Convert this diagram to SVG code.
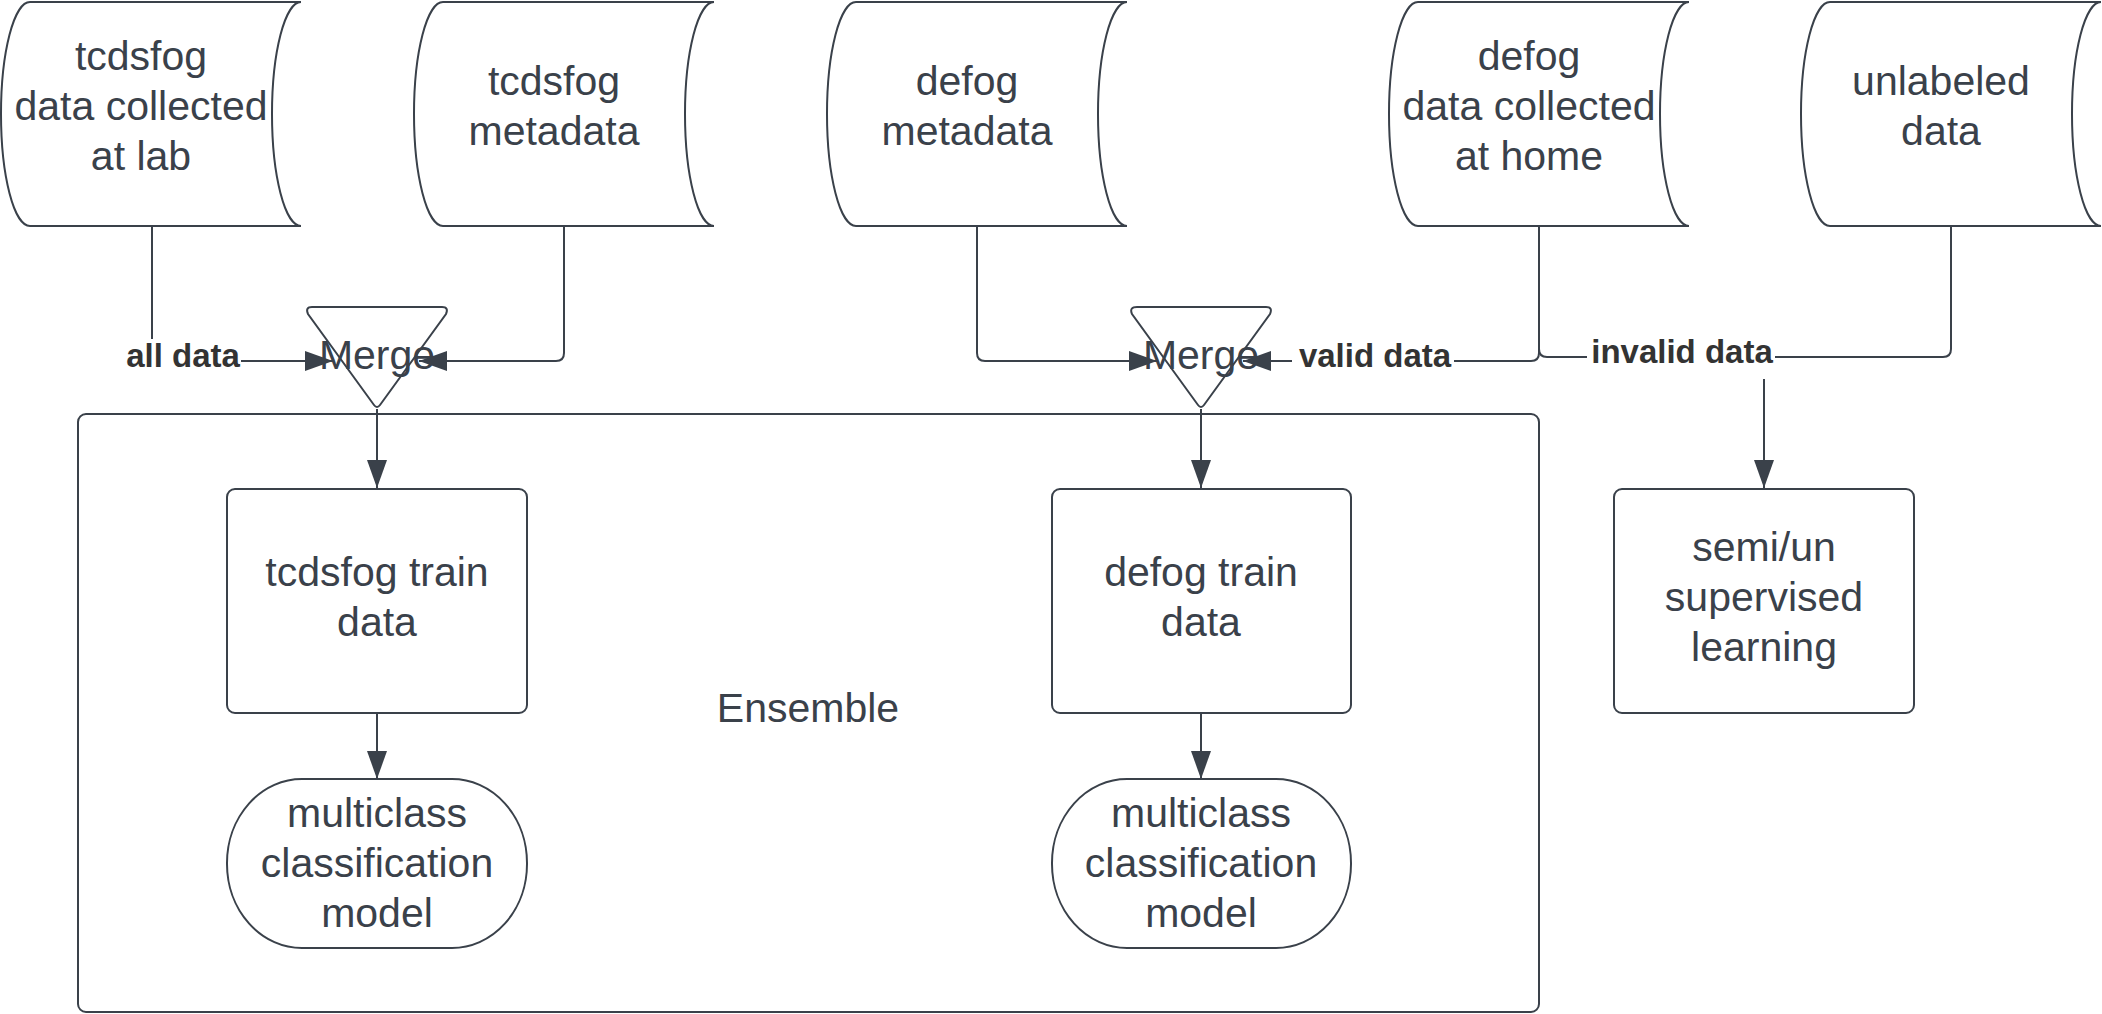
<svg xmlns="http://www.w3.org/2000/svg" width="2102" height="1014" viewBox="0 0 2102 1014">
<defs>
<style>
.shape{fill:#ffffff;stroke:#3a414a;stroke-width:2}
.t{font-family:"Liberation Sans",Arial,sans-serif;font-size:41px;fill:#3a414a;text-anchor:middle}
.edge{fill:none;stroke:#3a414a;stroke-width:2}
.lbl{font-family:"Liberation Sans",Arial,sans-serif;font-size:33px;font-weight:bold;fill:#333333;text-anchor:middle}
.lblbg{fill:#ffffff;stroke:none}
</style>
<marker id="arr" viewBox="0 0 28 20" refX="28" refY="10" markerWidth="28" markerHeight="20" markerUnits="userSpaceOnUse" orient="auto">
<path d="M0,0 L28,10 L0,20 Z" fill="#3a414a"/>
</marker>
</defs>
<rect width="2102" height="1014" fill="#ffffff"/>

<g id="ensemble">
<rect class="shape" x="78" y="414" width="1461" height="598" rx="8"/>
<text class="t" x="808" y="722">Ensemble</text>
</g>

<g id="cyl-tcdsfog-lab">
<path class="shape" d="M30,2 H301 A29,112 0 0,0 301,226 H30 A29,112 0 0,1 30,2 Z"/>
<text class="t" x="141" y="70">tcdsfog</text>
<text class="t" x="141" y="120">data collected</text>
<text class="t" x="141" y="170">at lab</text>
</g>
<g id="cyl-tcdsfog-meta">
<path class="shape" d="M443,2 H714 A29,112 0 0,0 714,226 H443 A29,112 0 0,1 443,2 Z"/>
<text class="t" x="554" y="95">tcdsfog</text>
<text class="t" x="554" y="145">metadata</text>
</g>
<g id="cyl-defog-meta">
<path class="shape" d="M856,2 H1127 A29,112 0 0,0 1127,226 H856 A29,112 0 0,1 856,2 Z"/>
<text class="t" x="967" y="95">defog</text>
<text class="t" x="967" y="145">metadata</text>
</g>
<g id="cyl-defog-home">
<path class="shape" d="M1418,2 H1689 A29,112 0 0,0 1689,226 H1418 A29,112 0 0,1 1418,2 Z"/>
<text class="t" x="1529" y="70">defog</text>
<text class="t" x="1529" y="120">data collected</text>
<text class="t" x="1529" y="170">at home</text>
</g>
<g id="cyl-unlabeled">
<path class="shape" d="M1830,2 H2101 A29,112 0 0,0 2101,226 H1830 A29,112 0 0,1 1830,2 Z"/>
<text class="t" x="1941" y="95">unlabeled</text>
<text class="t" x="1941" y="145">data</text>
</g>

<g id="tcdsfog-train">
<rect class="shape" x="227" y="489" width="300" height="224" rx="8"/>
<text class="t" x="377" y="586">tcdsfog train</text>
<text class="t" x="377" y="636">data</text>
</g>
<g id="defog-train">
<rect class="shape" x="1052" y="489" width="299" height="224" rx="8"/>
<text class="t" x="1201" y="586">defog train</text>
<text class="t" x="1201" y="636">data</text>
</g>
<g id="semi-learning">
<rect class="shape" x="1614" y="489" width="300" height="224" rx="8"/>
<text class="t" x="1764" y="561">semi/un</text>
<text class="t" x="1764" y="611">supervised</text>
<text class="t" x="1764" y="661">learning</text>
</g>
<g id="tcdsfog-model">
<rect class="shape" x="227" y="779" width="300" height="169" rx="75" ry="84"/>
<text class="t" x="377" y="827">multiclass</text>
<text class="t" x="377" y="877">classification</text>
<text class="t" x="377" y="927">model</text>
</g>
<g id="defog-model">
<rect class="shape" x="1052" y="779" width="299" height="169" rx="75" ry="84"/>
<text class="t" x="1201" y="827">multiclass</text>
<text class="t" x="1201" y="877">classification</text>
<text class="t" x="1201" y="927">model</text>
</g>

<g id="merge1">
<path class="shape" d="M312,307 H442 Q449,307 446,314 L380,405 Q377,409 374,405 L308,314 Q305,307 312,307 Z"/>
</g>
<g id="merge2">
<path class="shape" d="M1137,307 H1266 Q1273,307 1270,314 L1204,405 Q1201,409 1198,405 L1132,314 Q1129,307 1137,307 Z"/>
</g>

<g id="connectors">
<path class="edge" d="M152,226 V361 H333" marker-end="url(#arr)"/>
<path class="edge" d="M564,226 V353 Q564,361 556,361 H419" marker-end="url(#arr)"/>
<path class="edge" d="M377,409 V488" marker-end="url(#arr)"/>
<path class="edge" d="M377,713 V779" marker-end="url(#arr)"/>
<path class="edge" d="M977,226 V353 Q977,361 985,361 H1157" marker-end="url(#arr)"/>
<path class="edge" d="M1539,226 V353 Q1539,361 1531,361 H1243" marker-end="url(#arr)"/>
<path class="edge" d="M1201,409 V488" marker-end="url(#arr)"/>
<path class="edge" d="M1201,713 V779" marker-end="url(#arr)"/>
<path class="edge" d="M1539,226 V349 Q1539,357 1547,357 H1943 Q1951,357 1951,349 V226"/>
<path class="edge" d="M1764,357 V488" marker-end="url(#arr)"/>
<rect class="lblbg" x="120" y="339" width="121" height="38"/>
<text class="lbl" x="183" y="367">all data</text>
<rect class="lblbg" x="1292" y="339" width="162" height="38"/>
<text class="lbl" x="1375" y="367">valid data</text>
<rect class="lblbg" x="1587" y="335" width="188" height="44"/>
<text class="lbl" x="1682" y="363">invalid data</text>
</g>

<g id="merge-labels">
<text class="t" x="377" y="369">Merge</text>
<text class="t" x="1201" y="369">Merge</text>
</g>
</svg>
